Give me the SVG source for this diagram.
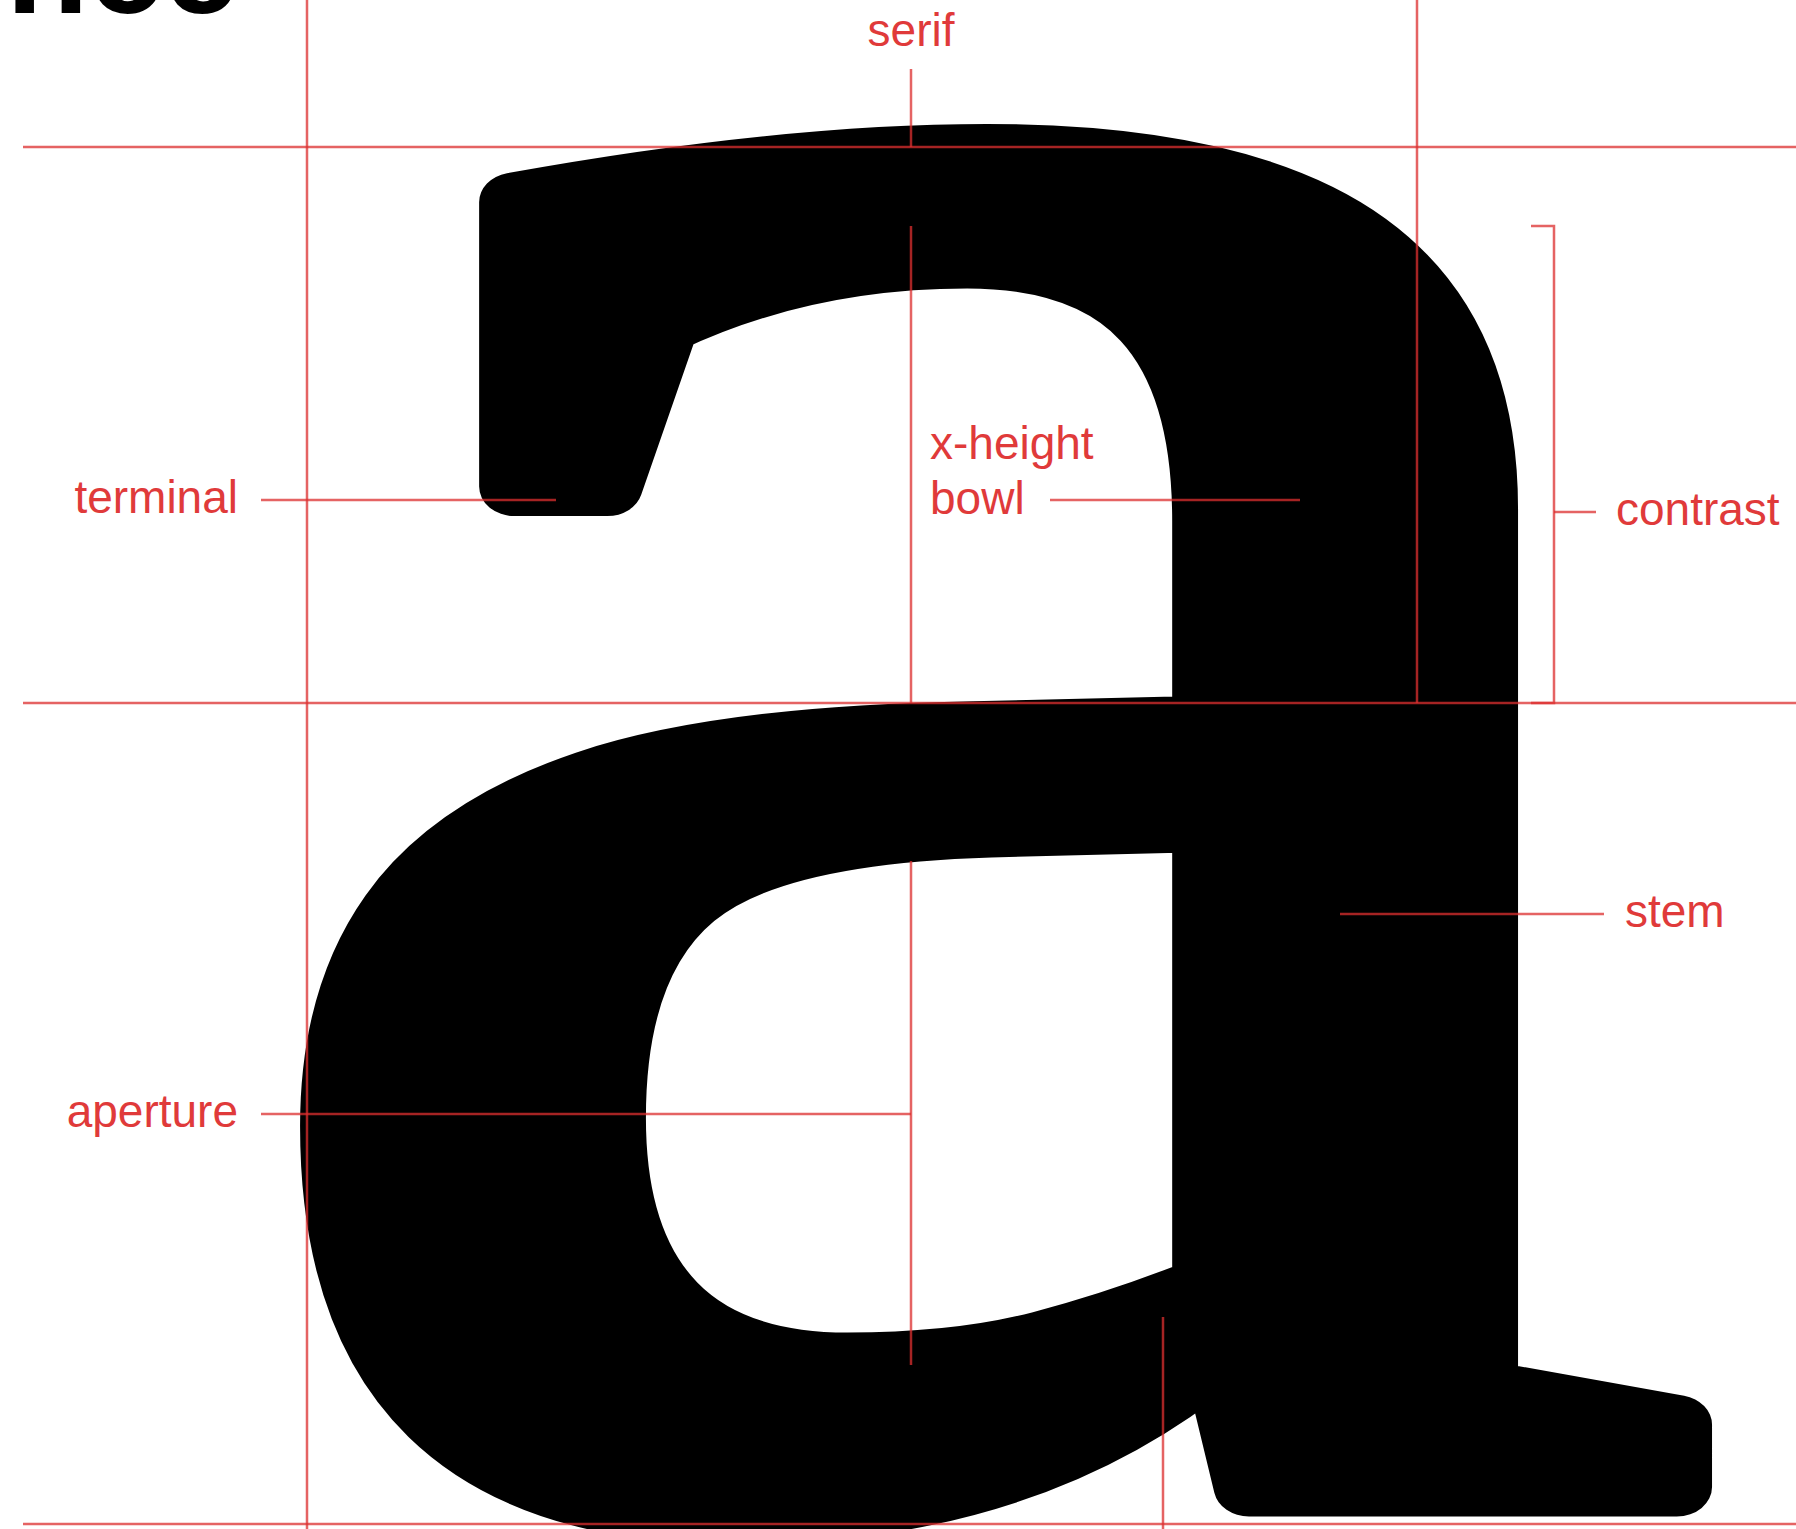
<svg xmlns="http://www.w3.org/2000/svg" width="1796" height="1529" viewBox="0 0 1796 1529">
<style>
.guide{stroke:#dc2f2f;stroke-width:2.5;stroke-opacity:0.75;fill:none}
.lbl{font-family:"Liberation Sans",Arial,sans-serif;font-size:46px;fill:#e03a3a}
.glyph{font-family:"Liberation Serif","Times New Roman",serif;font-weight:normal;fill:#000;stroke:#000;stroke-width:60;stroke-linejoin:round}
.head{font-family:"Liberation Sans",Arial,sans-serif;font-weight:bold;font-size:135px;fill:#000}
</style>
<rect width="1796" height="1529" fill="#fff"/>
<g id="heading"><text class="head" x="6" y="13">nce</text></g>
<g id="letter-a"><text class="glyph" transform="translate(216,1487) scale(1.177,0.985)" font-size="2885">a</text></g>
<g id="connectors">
<line class="guide" x1="23" y1="147" x2="1796" y2="147"/>
<line class="guide" x1="23" y1="703" x2="1796" y2="703"/>
<line class="guide" x1="23" y1="1524" x2="1796" y2="1524"/>
<line class="guide" x1="307" y1="0" x2="307" y2="1529"/>
<line class="guide" x1="1417" y1="0" x2="1417" y2="703"/>
<line class="guide" x1="911" y1="69" x2="911" y2="147"/>
<line class="guide" x1="911" y1="226" x2="911" y2="703"/>
<line class="guide" x1="911" y1="861" x2="911" y2="1365"/>
<line class="guide" x1="261" y1="1114" x2="911" y2="1114"/>
<line class="guide" x1="261" y1="500" x2="556" y2="500"/>
<line class="guide" x1="1050" y1="500" x2="1300" y2="500"/>
<line class="guide" x1="1340" y1="914" x2="1604" y2="914"/>
<path class="guide" d="M1531,226 H1554 V703 H1531"/>
<line class="guide" x1="1554" y1="512" x2="1596" y2="512"/>
<line class="guide" x1="1163" y1="1317" x2="1163" y2="1529"/>
</g>
<g id="label-serif"><text class="lbl" x="911" y="46" text-anchor="middle">serif</text></g>
<g id="label-terminal"><text class="lbl" x="238" y="513" text-anchor="end">terminal</text></g>
<g id="label-xheight"><text class="lbl" x="930" y="459">x-height</text></g>
<g id="label-bowl"><text class="lbl" x="930" y="514">bowl</text></g>
<g id="label-contrast"><text class="lbl" x="1616" y="525">contrast</text></g>
<g id="label-stem"><text class="lbl" x="1625" y="927">stem</text></g>
<g id="label-aperture"><text class="lbl" x="238" y="1127" text-anchor="end">aperture</text></g>
</svg>
